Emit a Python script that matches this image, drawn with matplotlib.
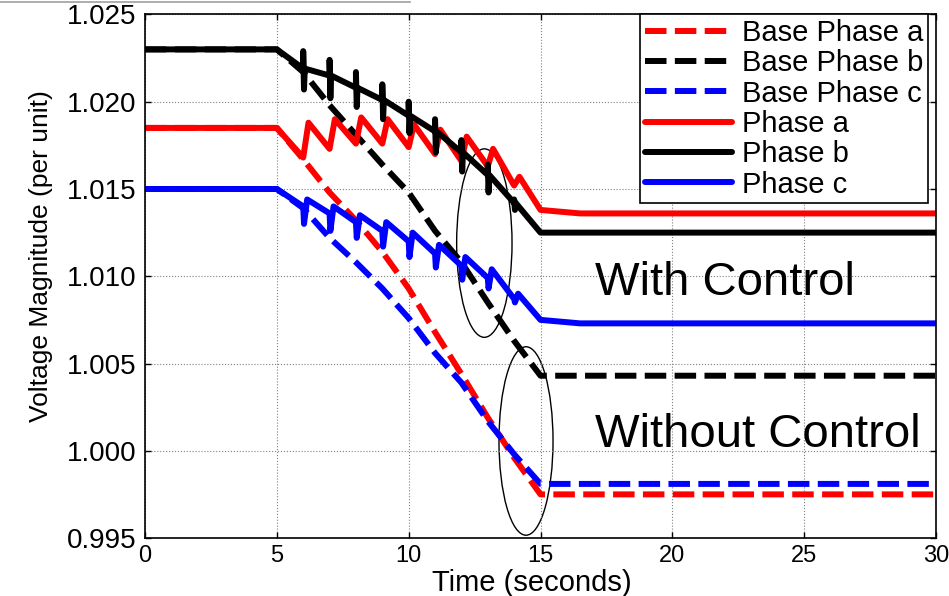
import numpy as np
import matplotlib
matplotlib.use('Agg')
import matplotlib.pyplot as plt
from matplotlib.patches import Ellipse
from matplotlib.lines import Line2D

plt.rcParams['font.family'] = ['Liberation Sans', 'DejaVu Sans']

# base case (no control), read at whole seconds
base_t = [0, 5, 6, 7, 8, 9, 10, 11, 12, 13, 14, 15, 30]
base_a = [1.0185, 1.0185, 1.0167, 1.0148, 1.0132, 1.0114, 1.0093, 1.0068, 1.0044, 1.0019, 0.9996, 0.9975, 0.9975]
base_b = [1.0230, 1.0230, 1.0217, 1.0198, 1.0181, 1.0164, 1.0148, 1.0126, 1.0108, 1.0085, 1.0063, 1.0043, 1.0043]
base_c = [1.0150, 1.0150, 1.0139, 1.0122, 1.0108, 1.0093, 1.0076, 1.0056, 1.0039, 1.0017, 0.9998, 0.9981, 0.9981]

# with control: regulator taps every second from 6 s to 14 s
tap_t = [6, 7, 8, 9, 10, 11, 12, 13, 14]
a_low = [1.0168, 1.0173, 1.0176, 1.0176, 1.0174, 1.0170, 1.0166, 1.0163, 1.0152]
a_high = [1.0188, 1.0190, 1.0191, 1.0190, 1.0187, 1.0184, 1.0180, 1.0173, 1.0157]
b_mid = [1.0219, 1.0215, 1.0208, 1.0201, 1.0192, 1.0183, 1.0171, 1.0158, 1.0142]
b_top = [1.0229, 1.0224, 1.0217, 1.0210, 1.0200, 1.0190, 1.0178, 1.0164, 1.0144]
b_bot = [1.0207, 1.0202, 1.0197, 1.0190, 1.0182, 1.0171, 1.0160, 1.0148, 1.0138]
c_low = [1.0140, 1.0136, 1.0131, 1.0126, 1.0120, 1.0113, 1.0106, 1.0099, 1.0087]
c_dip = [1.0130, 1.0126, 1.0122, 1.0117, 1.0111, 1.0105, 1.0098, 1.0093, 1.0085]
c_high = [1.0144, 1.0140, 1.0135, 1.0131, 1.0125, 1.0118, 1.0111, 1.0104, 1.0090]

start_a, start_b, start_c = 1.0185, 1.0230, 1.0150
end_t = [15, 16.5, 30]
end_a = [1.0138, 1.0136, 1.0136]
end_b = [1.0125, 1.0125, 1.0125]
end_c = [1.0075, 1.0073, 1.0073]

# build the controlled traces
ta, va = [0, 5], [start_a, start_a]
tb, vb = [0, 5], [start_b, start_b]
tc, vc = [0, 5], [start_c, start_c]
for i, k in enumerate(tap_t):
    ta += [k, k + 0.2]
    va += [a_low[i], a_high[i]]
    tb += [k, k, k + 0.03, k + 0.06]
    vb += [b_mid[i], b_top[i], b_bot[i], b_mid[i]]
    tc += [k, k + 0.03, k + 0.15]
    vc += [c_low[i], c_dip[i], c_high[i]]
ta += end_t; va += end_a
tb += end_t; vb += end_b
tc += end_t; vc += end_c

fig = plt.figure(figsize=(9.49, 5.96), dpi=100)
ax = fig.add_axes([0.1528, 0.0973, 0.8335, 0.8784])

lw = 4.3
dash = (3.6, 1.4)
kw = dict(lw=lw, solid_capstyle='round', solid_joinstyle='round')
ax.plot(base_t, base_a, color='red', ls=(0, dash), lw=lw, label='Base Phase a')
ax.plot(base_t, base_b, color='black', ls=(0, dash), lw=lw, label='Base Phase b')
ax.plot(base_t, base_c, color='blue', ls=(0, dash), lw=lw, label='Base Phase c')
ax.plot(ta, va, color='red', label='Phase a', **kw)
ax.plot(tb, vb, color='black', label='Phase b', **kw)
ax.plot(tc, vc, color='blue', label='Phase c', **kw)

ax.add_patch(Ellipse((12.87, 1.0119), 2.1, 0.0108, fill=False, ec='black', lw=1.0))
ax.add_patch(Ellipse((14.45, 1.00056), 2.05, 0.0108, fill=False, ec='black', lw=1.0))

ax.text(22.0, 1.0096, 'With Control', fontsize=34, ha='center', va='center')
ax.text(23.25, 1.0009, 'Without Control', fontsize=34, ha='center', va='center')

ax.set_xlim(0, 30)
ax.set_ylim(0.995, 1.025)
ax.set_xticks(np.arange(0, 31, 5))
ax.set_yticks(np.arange(0.995, 1.0251, 0.005))
ax.set_yticklabels(['%.3f' % v for v in np.arange(0.995, 1.0251, 0.005)])
ax.tick_params(direction='in', length=4, width=1, top=True, right=True)
ax.tick_params(axis='x', labelsize=17, pad=5)
ax.tick_params(axis='y', labelsize=20, pad=6)
ax.grid(True, color='gray', ls=':', lw=0.8)
for s in ax.spines.values():
    s.set_linewidth(1.2)

ax.set_xlabel('Time (seconds)', fontsize=21)
ax.xaxis.set_label_coords(0.489, -0.06)
ax.set_ylabel('Voltage Magnitude (per unit)', fontsize=19)
ax.yaxis.set_label_coords(-0.116, 0.539)

leg = ax.legend(loc='upper right', bbox_to_anchor=(0.99, 1.0), fontsize=21,
                handlelength=3.0, handletextpad=0.35, labelspacing=0.08,
                borderpad=0.15, borderaxespad=0, fancybox=False, framealpha=1)
leg.get_frame().set_edgecolor('black')
leg.get_frame().set_linewidth(1.2)

# thin grey frame remnant at top-left of the screenshot
fig.add_artist(Line2D([0, 410 / 949], [1 - 2 / 596, 1 - 2 / 596], color='#a0a0a0', lw=1.2))

fig.savefig('out.png', dpi=100)
